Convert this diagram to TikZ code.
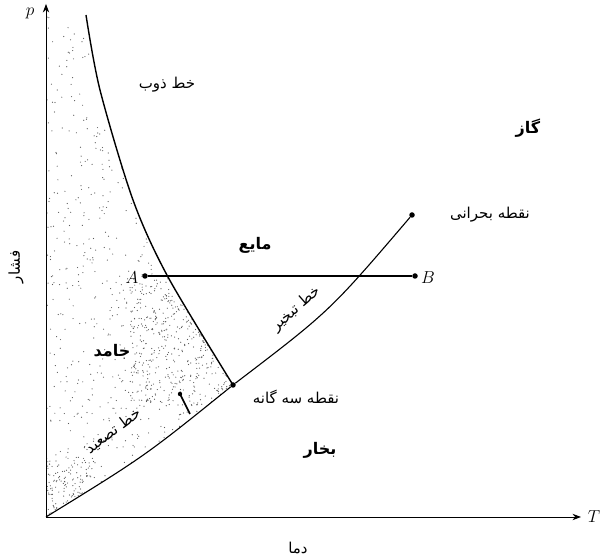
\documentclass[tikz,border=0pt]{standalone}
\usepackage{fontspec}
\newfontfamily\farsi[Script=Arabic]{DejaVu Sans}
\TeXXeTstate=1
\usetikzlibrary{arrows.meta}

\begin{document}
\begin{tikzpicture}[x=1pt, y=1pt,
  >={Stealth[length=3mm]},
  phase/.style={font=\farsi\bfseries\fontsize{16}{18}\selectfont},
  linelabel/.style={font=\farsi\fontsize{15}{17}\selectfont},
  letter/.style={font=\fontsize{17}{20}\selectfont},
  pt/.style={circle, fill, inner sep=0pt, minimum size=5.5pt},
  stip/.style={fill=black!65}
]
\useasboundingbox (0,0) rectangle (603,556);

\coordinate (O) at (46,39);
\coordinate (ytop) at (46,552);
\coordinate (xend) at (581,39);
\coordinate (m0) at (86,541);
\coordinate (m1) at (100,466);
\coordinate (m2) at (133,356);
\coordinate (m3) at (168,279);
\coordinate (m4) at (233,171);

% stippled solid region
\pgfmathsetseed{11}
\begin{scope}
  \clip (46,541) -- plot[smooth] coordinates {(m0) (m1) (m2) (m3) (m4)}
        .. controls (145,100) .. (O) -- cycle;
  \foreach \i in {1,...,900}{
    \pgfmathsetmacro\dx{46+187*rnd}
    \pgfmathsetmacro\dy{39+502*rnd}
    \fill[stip] (\dx,\dy) circle (0.6pt);
  }
  \foreach \i in {1,...,500}{
    \pgfmathsetmacro\dx{130+103*rnd}
    \pgfmathsetmacro\dy{150+130*rnd}
    \fill[stip] (\dx,\dy) circle (0.6pt);
  }
  \foreach \i in {1,...,150}{
    \pgfmathsetmacro\dx{46+50*rnd}
    \pgfmathsetmacro\dy{39+60*rnd}
    \fill[stip] (\dx,\dy) circle (0.6pt);
  }
\end{scope}

% axes
\draw[->, line width=0.8pt] (O) -- (ytop);
\draw[->, line width=0.8pt] (O) -- (xend);
\node[letter] (p) at (30,543) {$p$};
\node[letter] (T) at (594,39) {$T$};

% points
\node[pt] (tp) at (m4) {};
\node[pt] (cp) at (412,341) {};
\node[pt] (A) at (145,280) {};
\node[pt] (B) at (415,280) {};

% phase boundaries
\draw[line width=1.4pt] plot[smooth] coordinates {(m0) (m1) (m2) (m3) (m4)};
\draw[line width=1.1pt] (O) .. controls (145,100) .. (tp);
\draw[line width=1.1pt] (tp) .. controls (330,245) .. (cp);
\draw[line width=1.7pt] (A) -- (B);
\draw[line width=1.6pt] (190,142) -- (180,162);
\fill (180,162) circle (2.2pt);

% labels
\node[letter] (Alab) at (132,278) {$A$};
\node[letter] (Blab) at (428,278) {$B$};
\node[linelabel] (melt) at (167,471) {\beginR خط ذوب\endR};
\node[phase] (gas) at (528,428) {\beginR گاز\endR};
\node[linelabel] (cplab) at (490,341) {\beginR نقطه بحرانی\endR};
\node[phase] (liq) at (255,311) {\beginR مایع\endR};
\node[phase] (sol) at (112,204) {\beginR جامد\endR};
\node[linelabel, rotate=90] (pres) at (16,289) {\beginR فشار\endR};
\node[linelabel, rotate=41] (vap) at (296,247) {\beginR خط تبخیر\endR};
\node[linelabel] (tplab) at (296,159) {\beginR نقطه سه گانه\endR};
\node[linelabel, rotate=37] (sub) at (113,125) {\beginR خط تصعید\endR};
\node[phase] (vapour) at (320,106) {\beginR بخار\endR};
\node[linelabel] (temp) at (298,8) {\beginR دما\endR};
\end{tikzpicture}
\end{document}
